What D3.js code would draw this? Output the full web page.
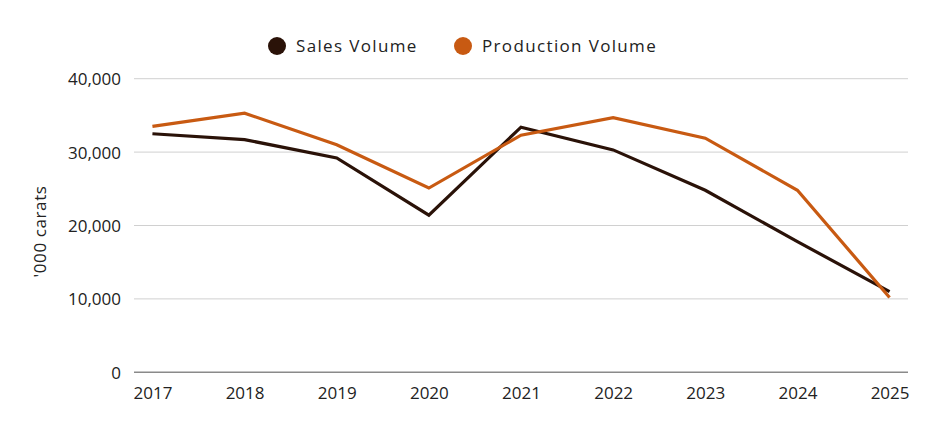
<!DOCTYPE html>
<html>
<head>
<meta charset="utf-8">
<script src="https://cdn.jsdelivr.net/npm/d3@7"></script>
<style>
  body { margin: 0; background: #fff; }
  text { font-family: "Open Sans", "Noto Sans", sans-serif; fill: #222; }
</style>
</head>
<body>
<svg id="chart" width="939" height="431"></svg>
<script>
// data
var years = ["2017", "2018", "2019", "2020", "2021", "2022", "2023", "2024", "2025"];
var salesVolume = [32500, 31700, 29200, 21400, 33400, 30300, 24800, 17800, 11000];
var productionVolume = [33500, 35300, 31000, 25100, 32300, 34700, 31900, 24800, 10200];
var yTicks = [0, 10000, 20000, 30000, 40000];
var seriesNames = ["Sales Volume", "Production Volume"];
var colors = ["#2a1208", "#c85a12"];

var svg = d3.select("#chart");
var plotLeft = 134, plotRight = 908, plotTop = 78.7, plotBottom = 372.3;

var x = d3.scalePoint().domain(years).range([plotLeft, plotRight]).padding(0.2);
var y = d3.scaleLinear().domain([0, 40000]).range([plotBottom, plotTop]);

// gridlines
svg.append("g").selectAll("line")
    .data(yTicks)
    .enter().append("line")
    .attr("x1", plotLeft).attr("x2", plotRight)
    .attr("y1", function(d) { return y(d); })
    .attr("y2", function(d) { return y(d); })
    .style("stroke", function(d) { return d == 0 ? "#8a8a8a" : "#d0d0d0"; })
    .style("stroke-width", function(d) { return d == 0 ? 1.5 : 1; });

// y axis labels
var yAxis = svg.append("g")
    .attr("transform", "translate(" + (plotLeft - 13) + ",0)")
    .call(d3.axisLeft(y).tickValues(yTicks).tickSize(0).tickFormat(d3.format(",")));
yAxis.select(".domain").remove();
yAxis.selectAll("text")
    .attr("x", 0)
    .attr("dy", "0.35em")
    .style("font-size", "17px")
    .style("font-family", "'Open Sans', sans-serif")
    .style("fill", "#222");

// x axis labels
var xAxis = svg.append("g")
    .attr("transform", "translate(0," + (plotBottom + 12) + ")")
    .call(d3.axisBottom(x).tickSize(0));
xAxis.select(".domain").remove();
xAxis.selectAll("text")
    .attr("y", 0)
    .attr("dy", "0.85em")
    .style("font-size", "17px")
    .style("font-family", "'Open Sans', sans-serif")
    .style("fill", "#222");

// y axis title
svg.append("text")
    .attr("transform", "translate(46," + ((plotTop + plotBottom) / 2 + 6) + ") rotate(-90)")
    .attr("text-anchor", "middle")
    .style("font-size", "17px")
    .style("letter-spacing", "0.6px")
    .text("'000 carats");

// lines
var line = d3.line()
    .x(function(d, i) { return x(years[i]); })
    .y(function(d) { return y(d); });

[salesVolume, productionVolume].forEach(function(vals, i) {
    svg.append("path")
        .datum(vals)
        .attr("d", line)
        .style("fill", "none")
        .style("stroke", colors[i])
        .style("stroke-width", 3.2)
        .style("stroke-linejoin", "miter");
});

// legend
var legend = svg.append("g");
var legendX = [277, 463];
seriesNames.forEach(function(name, i) {
    legend.append("circle")
        .attr("cx", legendX[i]).attr("cy", 46).attr("r", 9)
        .style("fill", colors[i]);
    legend.append("text")
        .attr("x", legendX[i] + 19).attr("y", 46)
        .attr("dy", "0.35em")
        .style("font-size", "17px")
        .style("letter-spacing", "1.35px")
        .text(name);
});
</script>
</body>
</html>
